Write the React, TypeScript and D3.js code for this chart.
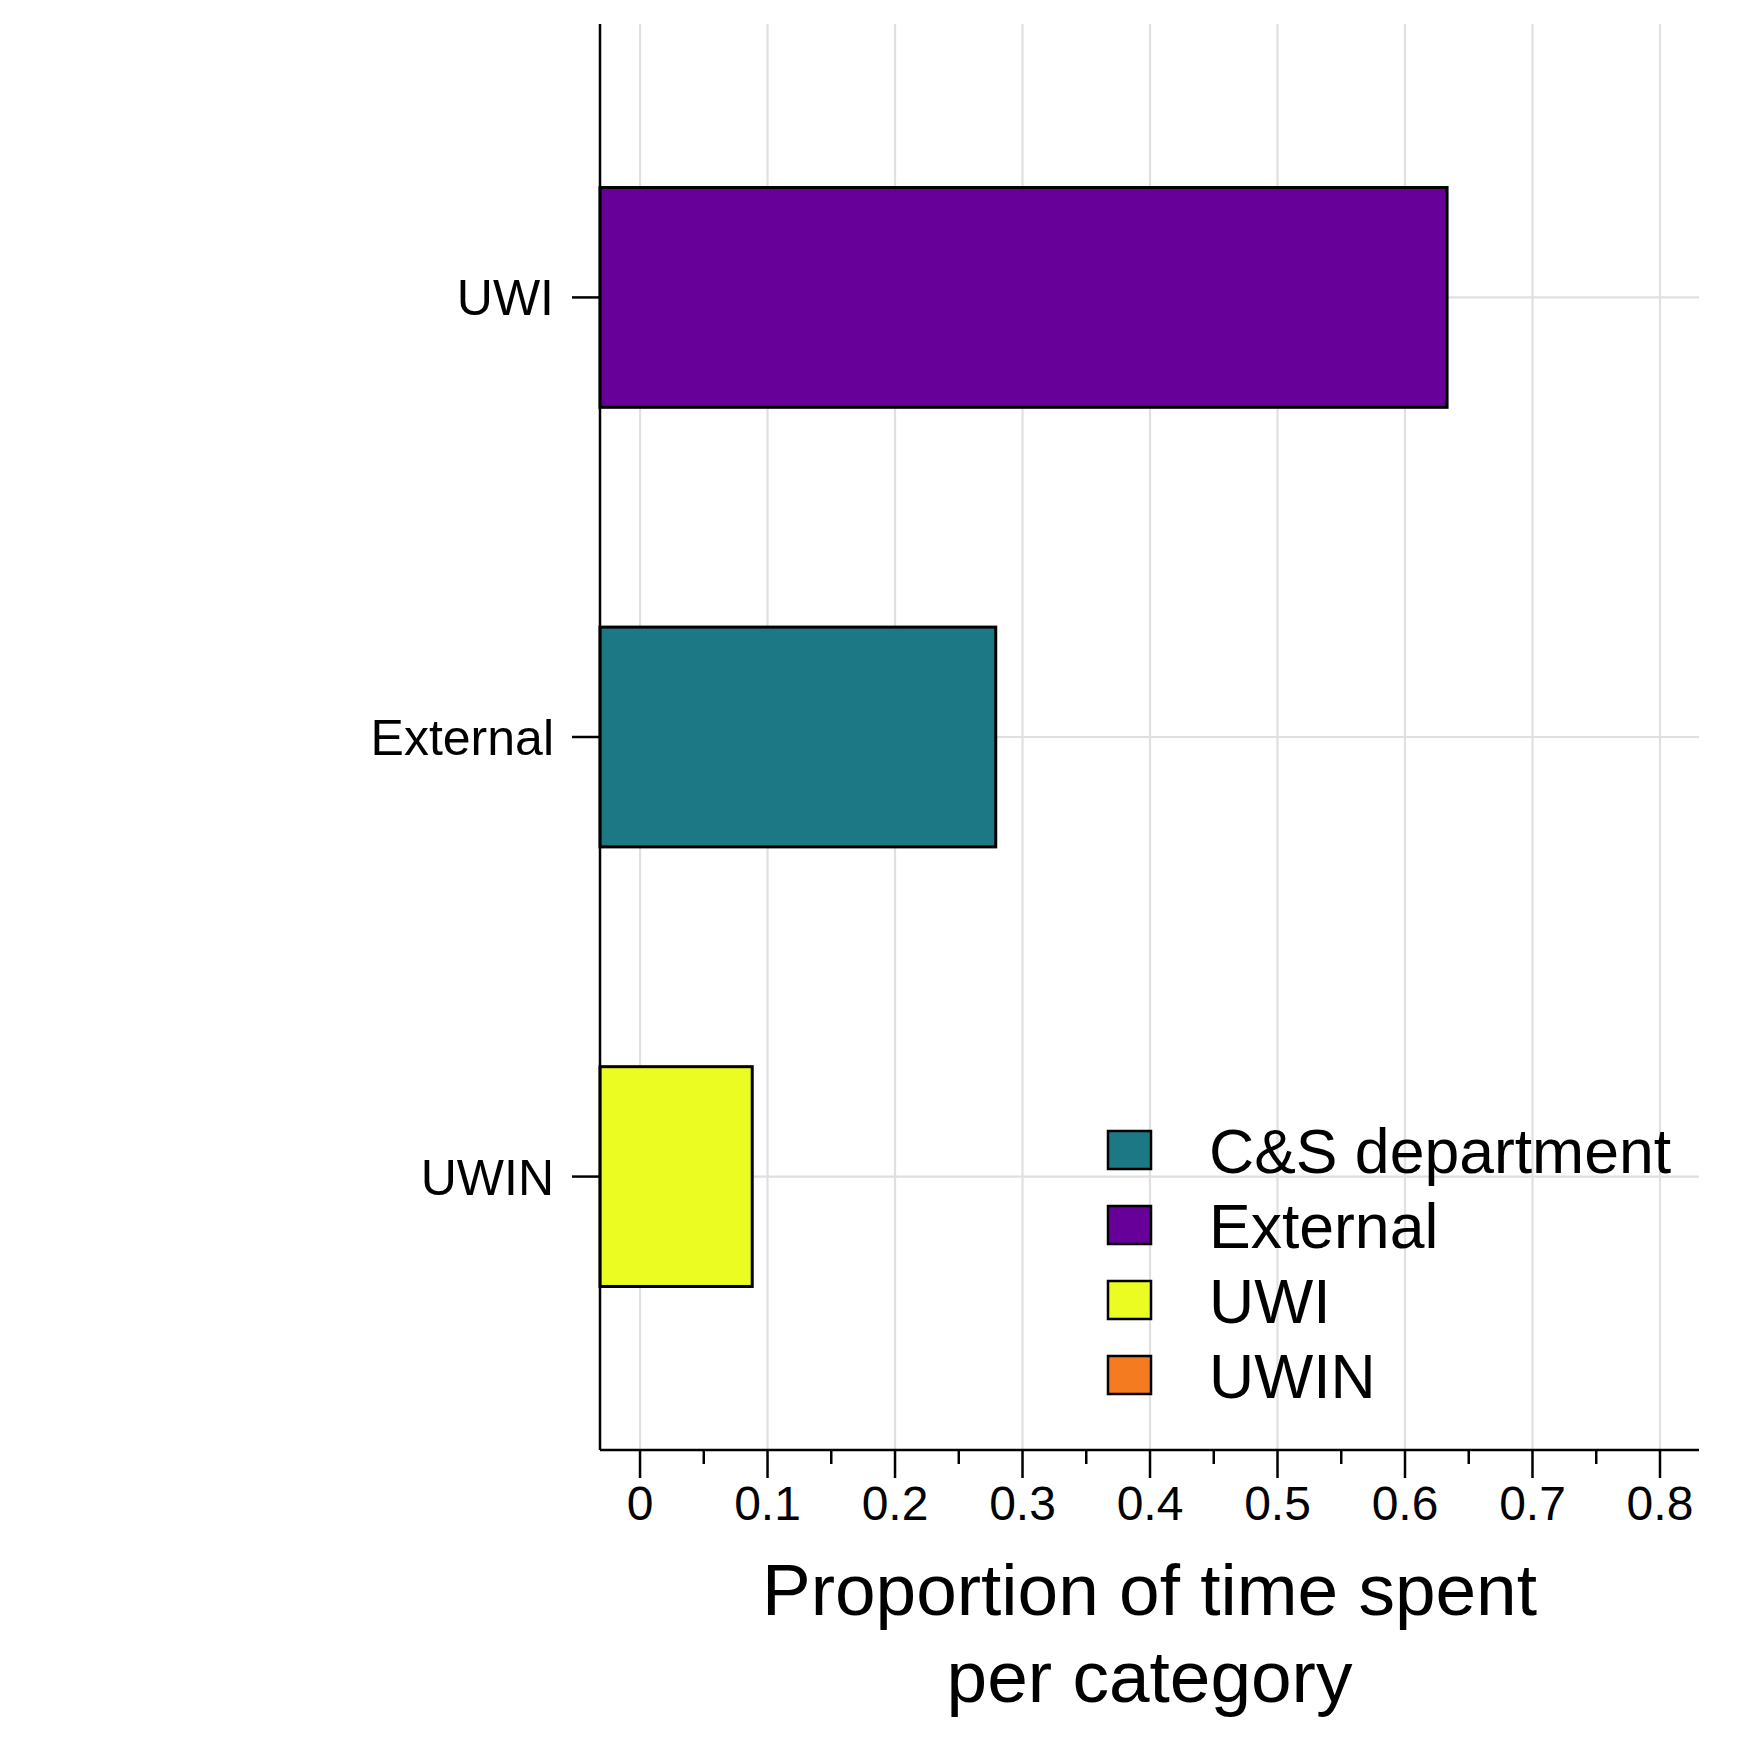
import * as d3 from "d3";

// categories on the y axis, top to bottom
const categories = ["UWI", "External", "UWIN"];
// proportion of time spent per category
const proportions = [0.633, 0.279, 0.088];
// fill group each bar is mapped to
const fillGroups = ["External", "C&S department", "UWI"];
// legend entries
const legendLabels = ["C&S department", "External", "UWI", "UWIN"];
const legendColors = ["#1D7885", "#660099", "#EAFC22", "#F47B20"];
// x tick labels
const xTickValues = [0, 0.1, 0.2, 0.3, 0.4, 0.5, 0.6, 0.7, 0.8];
const xTitle = ["Proportion of time spent", "per category"];

const W = 1750;
const H = 1750;
const panel = { left: 600, right: 1699, top: 24, bottom: 1450 };
const font = "'Liberation Sans', Arial, Helvetica, sans-serif";

export default function App() {
  const x = d3.scaleLinear().domain([-0.0314, 0.8306]).range([panel.left, panel.right]);
  const y = d3
    .scaleBand<string>()
    .domain(categories)
    .range([panel.top, panel.bottom])
    .paddingInner(0.5)
    .paddingOuter(0.372);
  const color = d3.scaleOrdinal<string, string>().domain(legendLabels).range(legendColors);

  const minorTicks = d3.range(0.05, 0.8, 0.1);
  const fmt = (v: number) => (v === 0 ? "0" : d3.format(".1f")(v));
  const grid = "#E0E0E0";

  const legendX = 1108;
  const legendY0 = 1150;
  const legendStep = 75;

  return (
    <svg
      width={W}
      height={H}
      style={{ position: "absolute", left: 0, top: 0, background: "#fff" }}
      fontFamily={font}
    >
      <rect width={W} height={H} fill="#fff" />

      {/* grid */}
      {xTickValues.map((t) => (
        <line
          key={"gx" + t}
          x1={x(t)}
          x2={x(t)}
          y1={panel.top}
          y2={panel.bottom}
          stroke={grid}
          strokeWidth={2.2}
        />
      ))}
      {categories.map((c) => (
        <line
          key={"gy" + c}
          x1={panel.left}
          x2={panel.right}
          y1={y(c)! + y.bandwidth() / 2}
          y2={y(c)! + y.bandwidth() / 2}
          stroke={grid}
          strokeWidth={2.2}
        />
      ))}

      {/* bars */}
      {categories.map((c, i) => (
        <rect
          key={"bar" + c}
          x={x.range()[0]}
          y={y(c)!}
          width={x(proportions[i]) - x.range()[0]}
          height={y.bandwidth()}
          fill={color(fillGroups[i])}
          stroke="#000"
          strokeWidth={3}
        />
      ))}

      {/* axes */}
      <line x1={panel.left} x2={panel.left} y1={panel.top} y2={panel.bottom} stroke="#000" strokeWidth={2.5} />
      <line x1={panel.left} x2={panel.right} y1={panel.bottom} y2={panel.bottom} stroke="#000" strokeWidth={2.5} />

      {/* y ticks + labels */}
      {categories.map((c) => {
        const cy = y(c)! + y.bandwidth() / 2;
        return (
          <g key={"yt" + c}>
            <line x1={panel.left - 28} x2={panel.left} y1={cy} y2={cy} stroke="#000" strokeWidth={2.5} />
            <text x={panel.left - 46} y={cy} dy="0.36em" textAnchor="end" fontSize={50} fill="#000">
              {c}
            </text>
          </g>
        );
      })}

      {/* x ticks + labels */}
      {xTickValues.map((t) => (
        <g key={"xt" + t}>
          <line x1={x(t)} x2={x(t)} y1={panel.bottom} y2={panel.bottom + 28} stroke="#000" strokeWidth={2.5} />
          <text x={x(t)} y={1520} textAnchor="middle" fontSize={48} fill="#000">
            {fmt(t)}
          </text>
        </g>
      ))}
      {minorTicks.map((t) => (
        <line
          key={"mt" + t}
          x1={x(t)}
          x2={x(t)}
          y1={panel.bottom}
          y2={panel.bottom + 14}
          stroke="#000"
          strokeWidth={2.5}
        />
      ))}

      {/* x title */}
      {xTitle.map((line, i) => (
        <text
          key={"title" + i}
          x={(panel.left + panel.right) / 2}
          y={1615 + i * 87}
          textAnchor="middle"
          fontSize={73}
          fill="#000"
        >
          {line}
        </text>
      ))}

      {/* legend */}
      {legendLabels.map((l, i) => {
        const cy = legendY0 + i * legendStep;
        return (
          <g key={"lg" + l}>
            <rect
              x={legendX}
              y={cy - 19}
              width={43}
              height={38}
              fill={color(l)}
              stroke="#000"
              strokeWidth={2.5}
            />
            <text x={1209} y={cy} dy="0.36em" fontSize={62.5} fill="#000">
              {l}
            </text>
          </g>
        );
      })}
    </svg>
  );
}
